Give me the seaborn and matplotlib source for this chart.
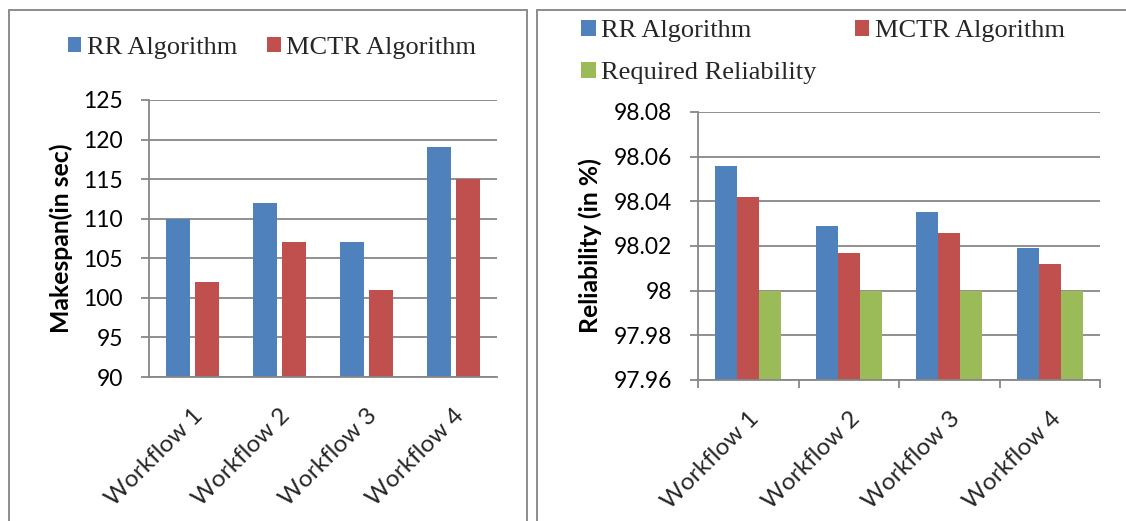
import matplotlib
matplotlib.use("Agg")
import matplotlib.pyplot as plt
import seaborn as sns
import pandas as pd
from matplotlib.patches import Patch
from matplotlib.lines import Line2D

# ---- data ----
workflows = ["Workflow 1", "Workflow 2", "Workflow 3", "Workflow 4"]
makespan_rr = [110, 112, 107, 119]
makespan_mctr = [102, 107, 101, 115]
rel_rr = [98.056, 98.029, 98.035, 98.019]
rel_mctr = [98.042, 98.017, 98.026, 98.012]
rel_required = [98.0, 98.0, 98.0, 98.0]
makespan_ticks = [90, 95, 100, 105, 110, 115, 120, 125]
makespan_ticklabels = ["90", "95", "100", "105", "110", "115", "120", "125"]
rel_ticks = [97.96, 97.98, 98.00, 98.02, 98.04, 98.06, 98.08]
rel_ticklabels = ["97.96", "97.98", "98", "98.02", "98.04", "98.06", "98.08"]
series_names = ["RR Algorithm", "MCTR Algorithm", "Required Reliability"]

colors = {"RR Algorithm": "#4F81BD", "MCTR Algorithm": "#C0504D",
          "Required Reliability": "#9BBB59"}
GRID = "#878787"

sns.set_theme(style="white")
plt.rcParams["font.family"] = ["Lato", "DejaVu Sans"]

W, H = 1126, 521
fig = plt.figure(figsize=(W / 100, H / 100), dpi=100)

def fx(px):
    return px / W

def fy(py):
    return 1 - py / H

df_left = pd.DataFrame({
    "Workflow": workflows * 2,
    "Value": makespan_rr + makespan_mctr,
    "Series": ["RR Algorithm"] * 4 + ["MCTR Algorithm"] * 4,
})
df_right = pd.DataFrame({
    "Workflow": workflows * 3,
    "Value": rel_rr + rel_mctr + rel_required,
    "Series": ["RR Algorithm"] * 4 + ["MCTR Algorithm"] * 4 + ["Required Reliability"] * 4,
})

ax1 = fig.add_axes([fx(149), fy(377), fx(497 - 149), (377 - 100) / H])
ax2 = fig.add_axes([fx(698), fy(380), fx(1100 - 698), (380 - 112) / H])

sns.barplot(data=df_left, x="Workflow", y="Value", hue="Series",
            hue_order=series_names[:2], palette=colors, width=0.667, gap=0.2,
            saturation=1, linewidth=0, legend=False, ax=ax1, errorbar=None)
sns.barplot(data=df_right, x="Workflow", y="Value", hue="Series",
            hue_order=series_names, palette=colors, width=0.66, gap=0,
            saturation=1, linewidth=0, legend=False, ax=ax2, errorbar=None)

TICKFS = 16.5
XFS = 17.5
for ax, ticks, labels in [(ax1, makespan_ticks, makespan_ticklabels),
                          (ax2, rel_ticks, rel_ticklabels)]:
    ax.set_ylim(ticks[0], ticks[-1])
    ax.set_yticks(ticks)
    ax.set_yticklabels(labels, fontsize=TICKFS, color="black")
    ax.set_xlim(-0.5, 3.5)
    ax.set_axisbelow(True)
    ax.yaxis.grid(True, color=GRID, lw=1.3)
    ax.xaxis.grid(False)
    for s in ["top", "right"]:
        ax.spines[s].set_visible(False)
    for s in ["left", "bottom"]:
        ax.spines[s].set_color(GRID)
        ax.spines[s].set_linewidth(1.3)
    ax.tick_params(axis="y", which="major", direction="out", length=5.8,
                   width=1.3, color=GRID, pad=13, left=True)
    ax.set_xlabel("")
    ax.set_xticks(range(len(workflows)))
    ax.set_xticklabels(workflows, rotation=45, ha="right",
                       rotation_mode="anchor", fontsize=XFS)
    ax.tick_params(axis="x", which="major", length=0, pad=20)

ax2.set_xticks([-0.5, 0.5, 1.5, 2.5, 3.5], minor=True)
ax2.tick_params(axis="x", which="minor", direction="out", length=5.8,
                width=1.3, color=GRID, bottom=True)

ax1.set_ylabel("Makespan(in sec)", fontsize=17.8, fontweight="bold", color="black")
ax2.set_ylabel("Reliability (in %)", fontsize=17.8, fontweight="bold", color="black")
ax1.yaxis.set_label_coords((73 - 149) / (497 - 149), 0.5)
ax2.yaxis.set_label_coords((602 - 698) / (1100 - 698), 0.5)

# legends
leg_font = {"family": ["Liberation Serif", "DejaVu Serif"], "size": 19}
hl = [Patch(facecolor=colors[n], edgecolor="none") for n in series_names]
fig.legend(hl[:2], series_names[:2], loc="center", ncol=2,
           bbox_to_anchor=(fx(272), fy(48)), frameon=False, prop=leg_font,
           handlelength=0.5, handleheight=0.5, handletextpad=0.2,
           columnspacing=1.15, borderpad=0)
fig.legend([hl[0], hl[2], hl[1]],
           [series_names[0], series_names[2], series_names[1]],
           loc="center", ncol=2, bbox_to_anchor=(fx(823), fy(52)),
           frameon=False, prop=leg_font, handlelength=0.55, handleheight=0.55,
           handletextpad=0.2, columnspacing=1.45, labelspacing=0.75, borderpad=0)

# panel borders
BORDER = "#8c8c8c"
for xs, ys in [([8.6, 8.6], [H, 9.5]), ([8.6, 527], [9.5, 9.5]), ([527, 527], [9.5, H]),
               ([537, 537], [H, 9.5]), ([537, W], [9.5, 9.5])]:
    fig.add_artist(Line2D([fx(x) for x in xs], [fy(y) for y in ys],
                          color=BORDER, lw=1.4, transform=fig.transFigure))

fig.savefig("out.png", dpi=100, facecolor="white")
